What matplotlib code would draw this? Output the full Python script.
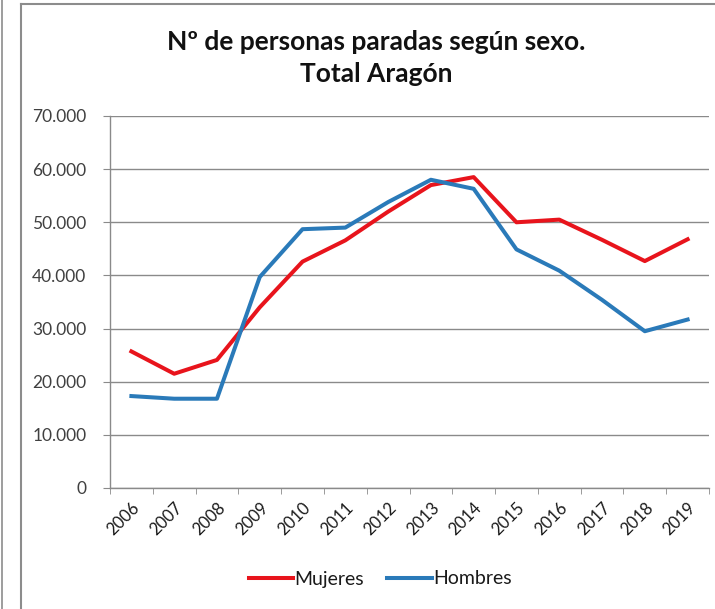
import numpy as np
import matplotlib
matplotlib.use("Agg")
import matplotlib.pyplot as plt
from matplotlib.ticker import FuncFormatter, MultipleLocator
from matplotlib.lines import Line2D

years = ["2006", "2007", "2008", "2009", "2010", "2011", "2012",
         "2013", "2014", "2015", "2016", "2017", "2018", "2019"]
mujeres = [25700, 21500, 24100, 34000, 42600, 46600, 52000,
           57000, 58500, 50000, 50500, 46700, 42700, 46800]
hombres = [17300, 16800, 16800, 39700, 48700, 49000, 53800,
           58000, 56300, 44900, 40900, 35400, 29500, 31700]
title = "Nº de personas paradas según sexo.\nTotal Aragón"

plt.rcParams["font.family"] = ["Lato", "DejaVu Sans"]
red = "#e8141c"
blue = "#2a7ab9"
grey_txt = "#404040"

W, H = 715, 609
fig = plt.figure(figsize=(W / 100, H / 100), dpi=100)
fig.patch.set_facecolor("white")

# outer frame lines (document page + chart border)
fig.add_artist(Line2D([2 / W, 2 / W], [0, 1], color="#8c8c8c", lw=1.2))
fig.add_artist(Line2D([21 / W, 21 / W], [0, 1 - 3.5 / H], color="#8c8c8c", lw=1.5))
fig.add_artist(Line2D([21 / W, 1], [1 - 3.5 / H, 1 - 3.5 / H], color="#8c8c8c", lw=1.5))

ax = fig.add_axes([110 / W, 1 - 488 / H, (709 - 110) / W, (488 - 116) / H])
x = np.arange(len(years))
ax.plot(x, mujeres, color=red, lw=2.9, solid_joinstyle="round", label="Mujeres", zorder=3)
ax.plot(x, hombres, color=blue, lw=2.9, solid_joinstyle="round", label="Hombres", zorder=3)

ax.set_xlim(-0.5, len(years) - 0.5)
ax.set_ylim(0, 70000)
ax.yaxis.set_major_locator(MultipleLocator(10000))
ax.yaxis.set_major_formatter(FuncFormatter(lambda v, p: f"{int(v):,}".replace(",", ".")))
ax.grid(axis="y", color="#8a8a8a", lw=1.0)
ax.set_axisbelow(True)

ax.set_xticks(x)
ax.set_xticklabels(years, rotation=45, ha="right", rotation_mode="anchor")
ax.set_xticks(np.arange(-0.5, len(years), 1), minor=True)
ax.tick_params(axis="x", which="major", length=0, pad=8, labelsize=12, labelcolor="#1a1a1a")
ax.tick_params(axis="x", which="minor", length=4, color="#8a8a8a")
ax.tick_params(axis="y", length=5, color="#8a8a8a", pad=12, labelsize=12.5, labelcolor=grey_txt)

for s in ["top", "right"]:
    ax.spines[s].set_visible(False)
for s in ["left", "bottom"]:
    ax.spines[s].set_color("#8a8a8a")
    ax.spines[s].set_linewidth(1.0)

fig.text(376 / W, 1 - 58 / H, title, ha="center", va="center",
         fontsize=19, fontweight="bold", color="#111111", linespacing=1.35)

fig.legend(loc="center", bbox_to_anchor=(380 / W, 1 - 579 / H), ncol=2, frameon=False,
           fontsize=14, handlelength=2.3, handletextpad=0.05, columnspacing=1.2,
           labelcolor="#1a1a1a")

fig.savefig("out.png", dpi=100)
